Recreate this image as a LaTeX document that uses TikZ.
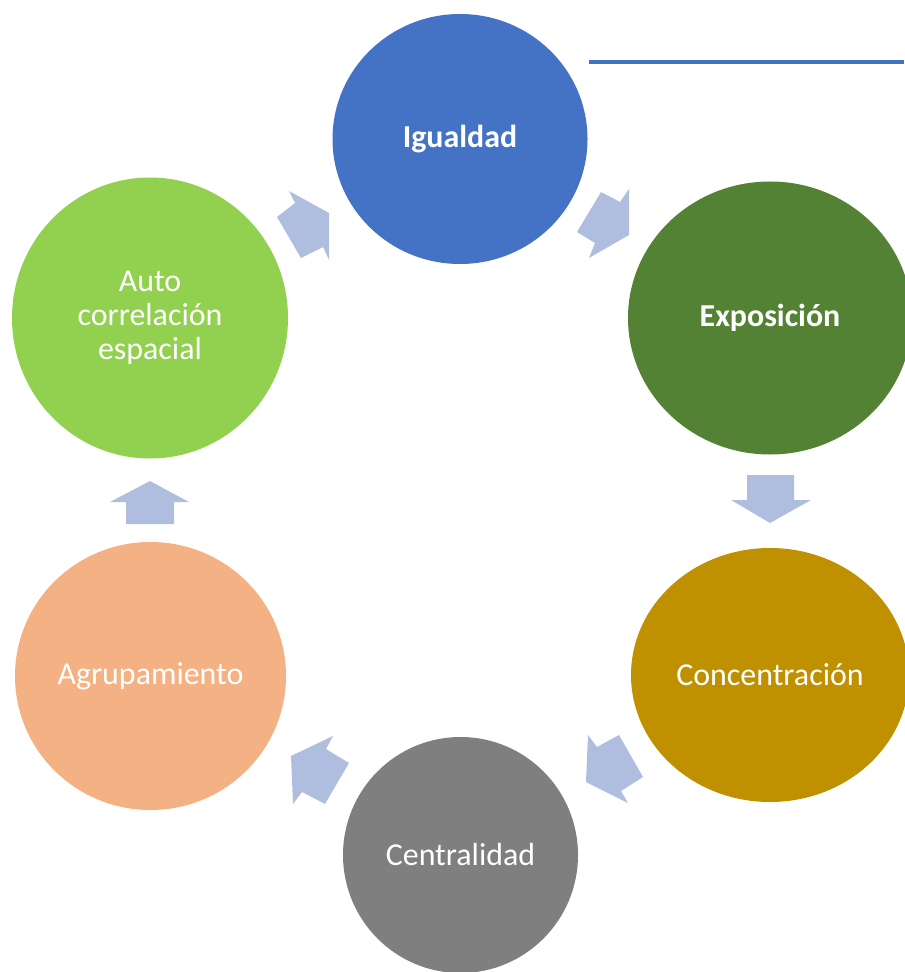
\documentclass[tikz,border=0pt]{standalone}
\usepackage{fontspec}
\setmainfont{Carlito}
\usepackage{tikz}
\usetikzlibrary{shapes.geometric, positioning}
\definecolor{igucol}{HTML}{4472C4}
\definecolor{expcol}{HTML}{548235}
\definecolor{concol}{HTML}{BF9000}
\definecolor{cencol}{HTML}{7F7F7F}
\definecolor{agrcol}{HTML}{F4B183}
\definecolor{autcol}{HTML}{92D050}
\definecolor{arrcol}{RGB}{175,189,223}

\begin{document}
\begin{tikzpicture}[x=0.25mm, y=-0.25mm,
    every node/.style={font=\fontsize{22.7}{24}\selectfont},
    stage/.style={ellipse, draw=none, inner sep=0pt, outer sep=0pt, text=white, align=center},
    blockarrow/.style={fill=arrcol}]
        \useasboundingbox (0,0) rectangle (904,972);
        \node[stage, fill=igucol, minimum width=63.75mm, minimum height=62.5mm, font=\fontsize{22.7}{24}\selectfont\bfseries] (igualdad) at (460,139) {Igualdad};
        \node[stage, fill=expcol, minimum width=71mm, minimum height=68.25mm, font=\fontsize{22.7}{24}\selectfont\bfseries] (exposicion) at (770,318) {Exposición};
        \node[stage, fill=concol, minimum width=69.5mm, minimum height=63.5mm] (concentracion) at (770,675) {Concentración};
        \node[stage, fill=cencol, minimum width=58.75mm, minimum height=59mm] (centralidad) at (460.5,855) {Centralidad};
        \node[stage, fill=agrcol, minimum width=67.75mm, minimum height=67mm] (agrupamiento) at (150.5,676) {Agrupamiento};
        \node[stage, fill=autcol, minimum width=69mm, minimum height=70.25mm] (autocorr) at (150,318) {Auto\\correlación\\espacial};

        % arrows between the stages
        \fill[blockarrow] (277,217) -- (295,203) -- (289,191) -- (329,213) -- (329,260) -- (323,247) -- (301,258) -- cycle;
        \fill[blockarrow] (601,192) -- (620,202) -- (629,189) -- (629,235) -- (589,258) -- (595,243) -- (577,232) -- cycle;
        \fill[blockarrow] (747,475) -- (794,475) -- (794,500) -- (811,500) -- (770,523) -- (731,500) -- (747,500) -- cycle;
        \fill[blockarrow] (588,735) -- (597,747) -- (619,735) -- (643,777) -- (621,791) -- (628,803) -- (586,782) -- cycle;
        \fill[blockarrow] (333,736) -- (326,749) -- (349,763) -- (325,804) -- (302,792) -- (293,804) -- (291,756) -- cycle;
        \fill[blockarrow] (126,524) -- (174,524) -- (174,502) -- (189,502) -- (150,481) -- (110,502) -- (126,502) -- cycle;

        \coordinate (linestart) at (589,62);
        \coordinate (lineend) at (904,62);
        \draw[igucol, line width=2.2pt] (linestart) -- (lineend);
      \end{tikzpicture}
\end{document}
